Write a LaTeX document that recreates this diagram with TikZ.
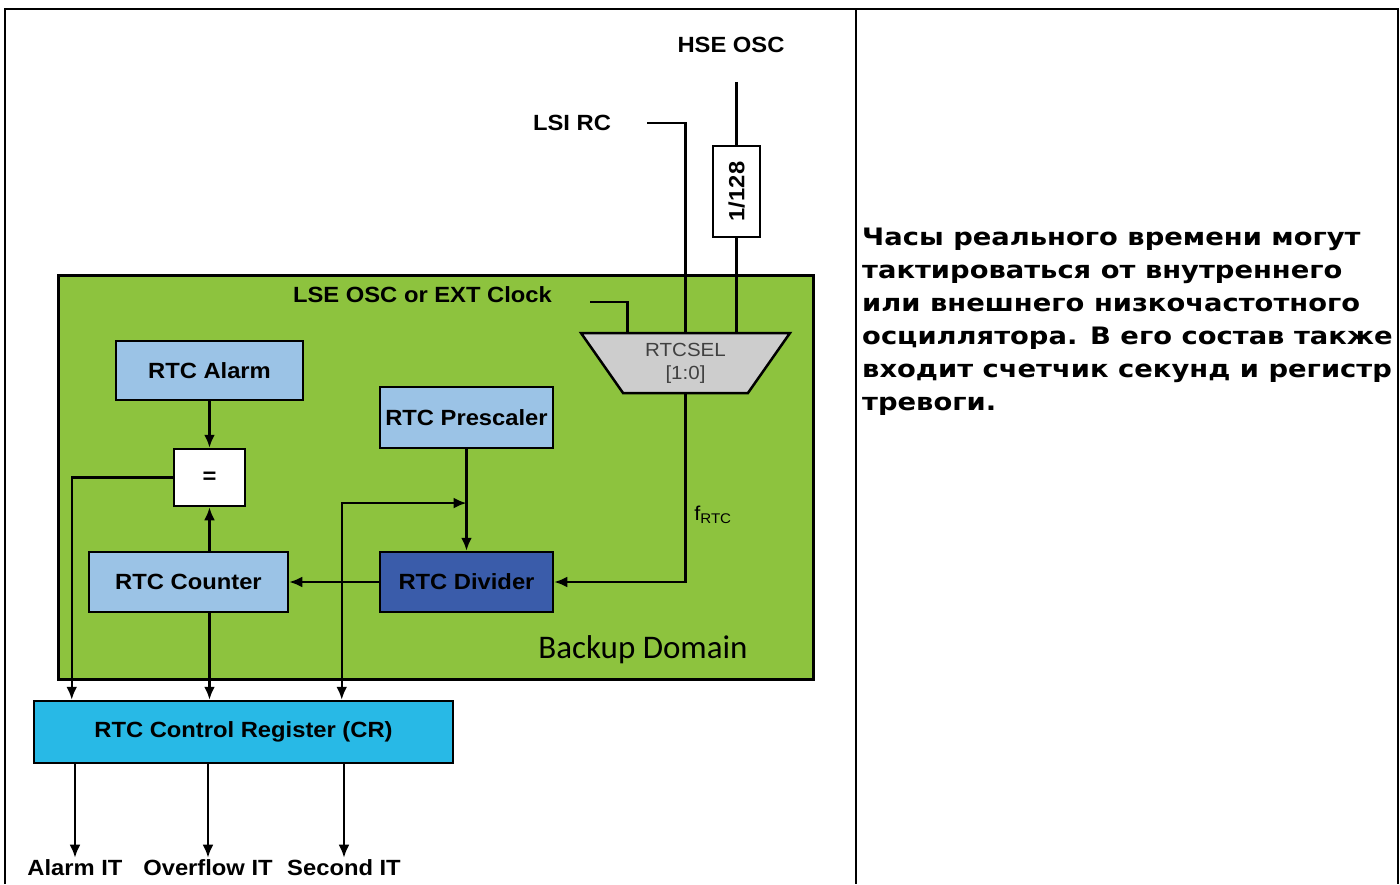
\documentclass[tikz,border=0pt]{standalone}
\usepackage{fontspec}
\usepackage{tikz}
\usetikzlibrary{arrows.meta,shapes.geometric,calc}
\newfontfamily\diagfont{Liberation Sans}[FakeStretch=1.08]
\newfontfamily\domfont{Carlito}
\newfontfamily\rufont{DejaVu Sans}[FakeStretch=1.14]
\definecolor{domgreen}{RGB}{141,195,62}
\definecolor{boxblue}{RGB}{155,195,230}
\definecolor{divblue}{RGB}{58,92,170}
\definecolor{crcyan}{RGB}{40,185,230}
\definecolor{selgray}{RGB}{205,205,205}

\begin{document}
\begin{tikzpicture}[x=1pt,y=-1pt,
  blk/.style={draw=black,line width=2.5pt,inner sep=0pt,font=\diagfont\bfseries\fontsize{22}{24}\selectfont},
  lbl/.style={inner sep=2pt,font=\diagfont\bfseries\fontsize{22}{24}\selectfont},
  wire/.style={line width=2.4pt},
  arr/.style={wire,-{Latex[length=13pt,width=11pt]}}]
\useasboundingbox (0,0) rectangle (1400,884);
% table frame
\draw[line width=2.4pt] (5,884) -- (5,9) -- (1398,9) -- (1398,884);
\draw[line width=2.4pt] (856,9) -- (856,884);
% backup domain
\node[draw=black,line width=3pt,fill=domgreen,minimum width=755,minimum height=404] (domain) at (435.5,477) {};
\node[font=\domfont\fontsize{33}{35}\selectfont] (domlbl) at (643,650) {Backup Domain};
% blocks
\node[blk,fill=boxblue,minimum width=187,minimum height=59] (alarm) at (209.5,370.5) {RTC Alarm};
\node[blk,fill=white,minimum width=71,minimum height=57] (eq) at (209.5,477.5) {=};
\node[blk,fill=boxblue,minimum width=173,minimum height=61] (presc) at (466.5,417.5) {RTC Prescaler};
\node[blk,fill=boxblue,minimum width=199,minimum height=60] (counter) at (188.5,582) {RTC Counter};
\node[blk,fill=divblue,minimum width=173,minimum height=60] (divider) at (466.5,582) {RTC Divider};
\node[blk,fill=crcyan,minimum width=419,minimum height=62] (cr) at (243.5,732) {RTC Control Register (CR)};
\node[blk,fill=white,minimum width=47,minimum height=91] (div128) at (736.5,191.5) {\rotatebox{90}{1/128}};
\node[draw=black,line width=2.5pt,fill=selgray,trapezium,shape border rotate=180,trapezium stretches=true,
  trapezium angle=56,minimum width=209,minimum height=60,inner sep=0pt,align=center,
  text=black!75,font=\diagfont\fontsize{19}{23}\selectfont] (sel) at (685.5,363) {RTCSEL\\{[1:0]}};
% clock sources
\node[lbl] (hse) at (731,45) {HSE OSC};
\node[lbl] (lsirc) at (572,123) {LSI RC};
\node[lbl] (lse) at (422.5,295) {LSE OSC or EXT Clock};
\node[font=\diagfont\fontsize{20}{22}\selectfont] (frtc) at (713,515) {f\textsubscript{RTC}};
\coordinate (hsetop) at ($(div128.north)+(0,-63)$);
\coordinate (lsi0) at (647,123);
\coordinate (lse0) at (590,302);
\draw[wire] (hsetop) -- (div128.north);
\draw[wire] (div128.south) -- (div128.south |- sel.north);
\draw[wire] (lsi0) -| (sel.north);
\draw[wire] (lse0) -| ($(sel.north)+(-58,0)$);
\draw[arr] (sel.south) |- (divider.east);
% internal paths
\draw[arr] (alarm) -- (eq);
\draw[arr] (eq.south |- counter.north) -- (eq.south);
\draw[arr] (presc) -- (divider);
\draw[arr] (divider) -- (counter);
\coordinate (tap) at ($(presc.south)!0.53!(divider.north)$);
\draw[arr] (eq.west) -| ([xshift=39pt]cr.north west);
\draw[arr] (eq.south |- counter.south) -- (eq.south |- cr.north);
\draw[wire,{Latex[length=13pt,width=11pt]}-{Latex[length=13pt,width=11pt]}] ([xshift=309pt]cr.north west) |- (tap);
% interrupts
\node[lbl] (itA) at (75,868) {Alarm IT};
\node[lbl] (itO) at (208,868) {Overflow IT};
\node[lbl] (itS) at (344,868) {Second IT};
\draw[arr] (cr.south -| itA) -- (itA.north);
\draw[arr] (cr.south -| itO) -- (itO.north);
\draw[arr] (cr.south -| itS) -- (itS.north);
% description
\node[anchor=north west,align=left,inner sep=0pt,font=\rufont\bfseries\fontsize{24}{33}\selectfont] (note) at (862,228)
  {Часы реального времени могут\\тактироваться от внутреннего\\или внешнего низкочастотного\\осциллятора. В его состав также\\входит счетчик секунд и регистр\\тревоги.};
\end{tikzpicture}
\end{document}
